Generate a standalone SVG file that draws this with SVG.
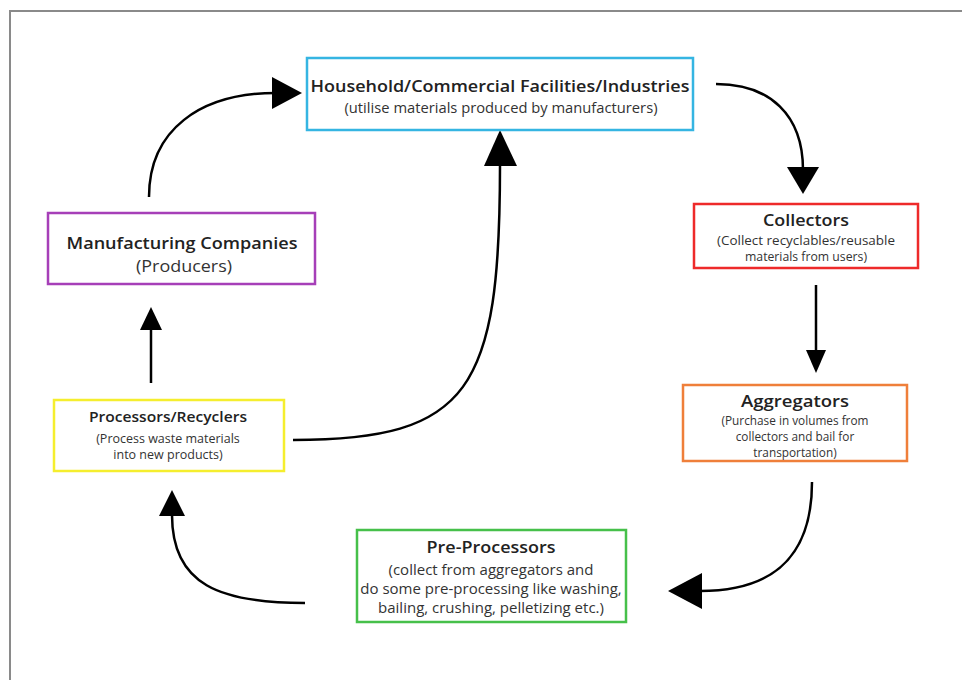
<svg xmlns="http://www.w3.org/2000/svg" width="962" height="680" viewBox="0 0 962 680">
<defs>
<style>
.box{fill:#fff;stroke-width:2.5}
.t{font-family:"Open Sans","Liberation Sans",sans-serif;font-weight:600;fill:#222;text-anchor:middle}
.s{font-family:"Open Sans","Liberation Sans",sans-serif;font-weight:400;fill:#333;text-anchor:middle}
.c{fill:none;stroke:#000;stroke-width:2.5}
.h{fill:#000}
</style>
</defs>
<rect x="0" y="0" width="962" height="680" fill="#fff"/>
<path d="M10,680 L10,11 L962,11" fill="none" stroke="#8a8a8a" stroke-width="2"/>

<g id="connectors">
<path class="c" d="M149,197 C149,130 200,93 276,93"/>
<path class="h" d="M302,93 L272,77 L272,109 Z"/>
<path class="c" d="M716,84 C770,84 803,115 803,170"/>
<path class="h" d="M803,194 L787,167 L819,167 Z"/>
<path class="c" d="M816,285 L816,352"/>
<path class="h" d="M816,373 L806,350 L826,350 Z"/>
<path class="c" d="M812,482 C812,550 780,591 700,591"/>
<path class="h" d="M668,591 L702,573 L702,609 Z"/>
<path class="c" d="M305,603 C220,603 172,585 172,515"/>
<path class="h" d="M172,490 L159,516 L185,516 Z"/>
<path class="c" d="M151,383 L151,328"/>
<path class="h" d="M151,307 L140,330 L162,330 Z"/>
<path class="c" d="M293,440 C470,440 500,390 500,165"/>
<path class="h" d="M500,130 L484,166 L517,166 Z"/>
</g>

<g id="household">
<rect class="box" x="307" y="58" width="386" height="72" stroke="#35b5e2"/>
<text class="t" x="500" y="92" font-size="16.5" textLength="379" lengthAdjust="spacingAndGlyphs">Household/Commercial Facilities/Industries</text>
<text class="s" x="501" y="113" font-size="14.5" textLength="313" lengthAdjust="spacingAndGlyphs">(utilise materials produced by manufacturers)</text>
</g>

<g id="collectors">
<rect class="box" x="694" y="204" width="224" height="64" stroke="#ee2a2a"/>
<text class="t" x="806" y="226" font-size="16" textLength="86" lengthAdjust="spacingAndGlyphs">Collectors</text>
<text class="s" x="806" y="245" font-size="11.7" textLength="178" lengthAdjust="spacingAndGlyphs">(Collect recyclables/reusable</text>
<text class="s" x="806" y="261" font-size="11.7" textLength="122" lengthAdjust="spacingAndGlyphs">materials from users)</text>
</g>

<g id="aggregators">
<rect class="box" x="683" y="385" width="224" height="76" stroke="#ef7f3a"/>
<text class="t" x="795" y="407" font-size="17" textLength="108" lengthAdjust="spacingAndGlyphs">Aggregators</text>
<text class="s" x="795" y="425" font-size="11.8">(Purchase in volumes from</text>
<text class="s" x="795" y="441" font-size="11.8">collectors and bail for</text>
<text class="s" x="795" y="457" font-size="11.8">transportation)</text>
</g>

<g id="preprocessors">
<rect class="box" x="357" y="530" width="269" height="92" stroke="#46c04a"/>
<text class="t" x="491" y="553" font-size="16" textLength="129" lengthAdjust="spacingAndGlyphs">Pre-Processors</text>
<text class="s" x="491" y="575" font-size="15">(collect from aggregators and</text>
<text class="s" x="491" y="594" font-size="15">do some pre-processing like washing,</text>
<text class="s" x="491" y="613" font-size="15">bailing, crushing, pelletizing etc.)</text>
</g>

<g id="processors">
<rect class="box" x="54" y="400" width="230" height="71" stroke="#f5ee2e"/>
<text class="t" x="168" y="422" font-size="14.5" textLength="158" lengthAdjust="spacingAndGlyphs">Processors/Recyclers</text>
<text class="s" x="168" y="443" font-size="12.5">(Process waste materials</text>
<text class="s" x="168" y="459" font-size="12.5">into new products)</text>
</g>

<g id="manufacturing">
<rect class="box" x="48" y="213" width="267" height="71" stroke="#a63fb8"/>
<text class="t" x="182" y="249" font-size="16.5" textLength="231" lengthAdjust="spacingAndGlyphs">Manufacturing Companies</text>
<text class="s" x="184" y="272" font-size="16" textLength="96" lengthAdjust="spacingAndGlyphs">(Producers)</text>
</g>
</svg>
